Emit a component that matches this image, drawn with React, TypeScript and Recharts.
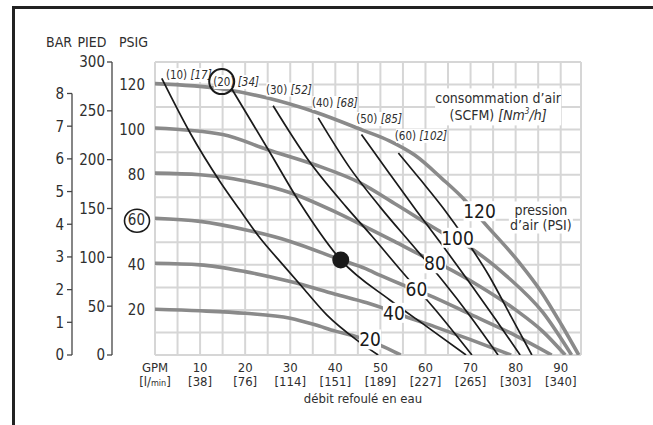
import {
  ComposedChart, Line, XAxis, YAxis, CartesianGrid, ReferenceDot, Label,
} from 'recharts'

const FONT = "'Liberation Sans Narrow', 'Arial Narrow', 'DejaVu Sans Condensed', sans-serif"
const INK = '#1a1a1a'
const TXT = '#2e2e2e'
const CURVE = '#8a8a8a'
const GRID = '#d6d6d6'

const W = 653
const H = 425
const MARGIN = { top: 62, right: 72, bottom: 20, left: 46 }
const X_AXIS_H = 50
const PLOT_H = H - MARGIN.top - MARGIN.bottom - X_AXIS_H

// axis ids sort so that psi sits next to the plot, then feet, then bar
const PSI = 'a-psi'
const PIED = 'b-pied'
const BAR = 'c-bar'

const GPM_MAX = 94.5
const PSI_MAX = 130
const PIED_MAX = 300
const BAR_MAX = PSI_MAX / 14.5038

const GPM_GRID = [0, 5, 10, 15, 20, 25, 30, 35, 40, 45, 50, 55, 60, 65, 70, 75, 80, 85, 90, GPM_MAX]
const GPM_LABELS = [10, 20, 30, 40, 50, 60, 70, 80, 90]
const LPM_LABELS = ['38', '76', '114', '151', '189', '227', '265', '303', '340']
const PSI_GRID = [0, 10, 20, 30, 40, 50, 60, 70, 80, 90, 100, 110, 120, 130]
const PSI_LABELS = [20, 40, 60, 80, 100, 120]
const PIED_TICKS = [0, 50, 100, 150, 200, 250, 300]
const BAR_TICKS = [0, 1, 2, 3, 4, 5, 6, 7, 8]

// water flow vs discharge pressure, one curve per air inlet pressure: [gpm, psig]
const AIR_20 = [[0, 20.3], [10, 19.6], [20, 18.5], [30, 16.3], [35.5, 13.4], [40, 10.6], [44.7, 8.1], [49.9, 4.4], [54.5, 0]]
const AIR_40 = [[0, 40.7], [10, 40], [20, 37], [30, 32.6], [40, 27], [47, 23.2], [50.6, 20.8], [55.4, 17.2], [62, 12.6], [70, 6.8], [79, 0]]
const AIR_60 = [[0, 60.7], [10, 59.3], [20, 55.6], [30, 50.4], [41.2, 42.2], [46.6, 38.4], [50, 35.3], [55.8, 30.4], [60.6, 26.7], [70, 18], [80, 8.6], [88, 0]]
const AIR_80 = [[0, 80.7], [10, 80], [20, 77.2], [30, 72], [40, 63.5], [46.6, 57], [53, 50.5], [60, 43.3], [64.3, 39.2], [72, 30.5], [80, 20], [86, 10.5], [91, 0]]
const AIR_100 = [[0, 100.7], [15, 97.8], [25, 91.1], [35.5, 84.4], [45.6, 76.3], [53.6, 66.7], [63.9, 54.1], [69.5, 48.1], [78, 35], [86, 19], [92.4, 0]]
const AIR_120 = [[0, 120.4], [15, 118], [25, 114], [35.5, 107.8], [46, 99.8], [52, 95], [57.6, 88.7], [63.6, 78.4], [68.7, 68.8], [72.8, 59.2], [80.6, 41.5], [85.7, 28], [90.2, 13.3], [94, 0]]
const AIR_CURVES = [AIR_20, AIR_40, AIR_60, AIR_80, AIR_100, AIR_120]
const AIR_NAMES = ['20', '40', '60', '80', '100', '120']
const AIR_NAME_AT = [[47.7, 6.9], [53, 18.7], [58, 29.2], [62.1, 40.7], [67.1, 52], [72, 63.8]]

// air consumption lines (SCFM): [gpm, psig]
const SCFM_10 = [[1.5, 122.7], [7.8, 98.5], [14.4, 77], [18.8, 64.4], [23.3, 51.9], [28.4, 40], [32.9, 29.6], [38.1, 17.8], [44.7, 6.7], [49.5, 0]]
const SCFM_20 = [[16.6, 119.5], [25.4, 90.2], [32.2, 67.3], [41.2, 42.2], [52.1, 24.4], [60.3, 12.6], [69, 0]]
const SCFM_30 = [[26.2, 110.6], [34, 86.5], [42.5, 65.5], [48, 53], [55, 36.5], [62, 20.5], [70.3, 0]]
const SCFM_40 = [[36.2, 105.2], [43.3, 82.8], [50, 65.5], [57, 49], [64, 32.5], [70, 17], [76.1, 0]]
const SCFM_50 = [[45.8, 97.8], [52, 80.5], [58, 64], [64, 48], [70, 31.5], [75.5, 16], [81, 0]]
const SCFM_60 = [[54, 89.6], [59, 77.5], [64, 65], [69, 51], [74, 35.5], [79, 17], [83.6, 0]]
const SCFM_LINES = [SCFM_10, SCFM_20, SCFM_30, SCFM_40, SCFM_50, SCFM_60]
const SCFM_NAMES = ['10', '20', '30', '40', '50', '60']
const NM3H_NAMES = ['17', '34', '52', '68', '85', '102']
const SCFM_NAME_AT = [[7.5, 124.2], [18, 121.1], [29.7, 117.8], [39.9, 111.8], [49.7, 104.7], [59, 97.2]]
const CIRCLED_SCFM_AT = [14.8, 121.3]

const OPERATING_POINT = [41.2, 42.2]
const CONSUMPTION_NOTE_AT = [76.1, 110.3]
const PRESSURE_NOTE_AT = [85.6, 61]

const toPts = (arr: number[][]) => arr.map(([x, y]) => ({ x, y }))

function GpmTick({ x, y, payload }: any) {
  const v = payload.value
  if (v === 0) {
    return (
      <g fontFamily={FONT} fontSize={13}>
        <text x={x} y={y + 17} textAnchor="middle" fill={TXT}>GPM</text>
        <text x={x} y={y + 31} textAnchor="middle" fill={TXT}>
          [l/<tspan fontSize={9}>min</tspan>]
        </text>
      </g>
    )
  }
  const i = GPM_LABELS.indexOf(v)
  if (i < 0) return <g />
  return (
    <g fontFamily={FONT} fontSize={13}>
      <text x={x} y={y + 17} textAnchor="middle" fill={TXT}>{v}</text>
      <text x={x} y={y + 31} textAnchor="middle" fill={TXT}>[{LPM_LABELS[i]}]</text>
    </g>
  )
}

function PsiTick({ x, y, payload }: any) {
  const v = payload.value
  if (!PSI_LABELS.includes(v)) return <g />
  return (
    <g>
      <text x={x} y={y} dy="0.36em" textAnchor="end" fontFamily={FONT} fontSize={15} fill={TXT}>{v}</text>
      {v === 60 && <ellipse cx={x - 8} cy={y + 1} rx={12.5} ry={11.5} fill="none" stroke={INK} strokeWidth={1.6} />}
    </g>
  )
}

function PlainTick({ x, y, payload }: any) {
  return (
    <text x={x} y={y} dy="0.36em" textAnchor="end" fontFamily={FONT} fontSize={15} fill={TXT}>
      {payload.value}
    </text>
  )
}

// bar axis line only runs from 0 to 8 bar
function BarTick({ x, y, payload }: any) {
  const lineX = x + 8
  return (
    <g>
      <text x={x} y={y} dy="0.36em" textAnchor="end" fontFamily={FONT} fontSize={15} fill={TXT}>
        {payload.value}
      </text>
      {payload.value === 8 && (
        <line x1={lineX} x2={lineX} y1={y} y2={y + (8 * PLOT_H) / BAR_MAX} stroke="#444" strokeWidth={1.3} />
      )}
    </g>
  )
}

const curveTag = (text: string) => ({ cx, cy }: any) => {
  const w = text.length * 10 + 2
  return (
    <g>
      <rect x={cx - w / 2} y={cy - 10} width={w} height={20} fill="#fff" />
      <text x={cx} y={cy} dy="0.36em" textAnchor="middle" fontFamily={FONT} fontSize={19} fill={INK}>{text}</text>
    </g>
  )
}

const scfmTag = (scfm: string, nm3: string) => ({ cx, cy }: any) => {
  const w = (scfm.length + nm3.length + 5) * 5
  return (
    <g>
      <rect x={cx - w / 2} y={cy - 7} width={w} height={14} fill="#fff" />
      <text x={cx} y={cy} dy="0.35em" textAnchor="middle" fontFamily={FONT} fontSize={11.5} fill={TXT}>
        ({scfm}) <tspan fontStyle="italic">[{nm3}]</tspan>
      </text>
    </g>
  )
}

const consumptionNote = ({ cx, cy }: any) => (
  <g fontFamily={FONT} fill={TXT}>
    <rect x={cx - 63} y={cy - 18} width={126} height={37} fill="#fff" />
    <text x={cx} y={cy - 3} textAnchor="middle" fontSize={14} fill={TXT}>consommation d’air</text>
    <text x={cx} y={cy + 14} textAnchor="middle" fontSize={14} fill={TXT}>
      (SCFM) <tspan fontStyle="italic">[Nm<tspan dy={-6} fontSize={8}>3</tspan><tspan dy={6}>/h]</tspan></tspan>
    </text>
  </g>
)

const pressureNote = ({ cx, cy }: any) => (
  <g fontFamily={FONT} fill={TXT}>
    <rect x={cx - 32} y={cy - 16} width={64} height={32} fill="#fff" />
    <text x={cx} y={cy - 3} textAnchor="middle" fontSize={14} fill={TXT}>pression</text>
    <text x={cx} y={cy + 12} textAnchor="middle" fontSize={14} fill={TXT}>d’air (PSI)</text>
  </g>
)

export default function App() {
  return (
    <div style={{ position: 'fixed', left: 0, top: 0, width: W, height: H, background: '#fff' }}>
      <div
        style={{
          position: 'absolute', left: 12, top: 6, width: W - 12, height: H - 6,
          borderTop: '3px solid #222', borderLeft: '3px solid #222', boxSizing: 'border-box',
        }}
      />
      <div style={{ position: 'absolute', left: 0, top: 0 }}>
        <ComposedChart width={W} height={H} margin={MARGIN}>
          <CartesianGrid yAxisId={PSI} stroke={GRID} strokeWidth={2} />
          <XAxis
            dataKey="x" type="number" domain={[0, GPM_MAX]} ticks={GPM_GRID} allowDataOverflow
            height={X_AXIS_H} axisLine={false} tickLine={false} tickSize={0} tickMargin={0}
            tick={<GpmTick />} interval={0}
          >
            <Label value="débit refoulé en eau" position="insideBottom" offset={2} dx={-5}
              fontFamily={FONT} fontSize={13} fill={TXT} />
          </XAxis>
          <YAxis
            yAxisId={PSI} type="number" domain={[0, PSI_MAX]} ticks={PSI_GRID} allowDataOverflow
            width={43} axisLine={false} tickLine={false} tickSize={0} tickMargin={10}
            tick={<PsiTick />} interval={0}
          >
            <Label value="PSIG" position="top" offset={15} fontFamily={FONT} fontSize={14} fill={TXT} />
          </YAxis>
          <YAxis
            yAxisId={PIED} type="number" domain={[0, PIED_MAX]} ticks={PIED_TICKS} allowDataOverflow
            width={40} axisLine={{ stroke: '#444', strokeWidth: 1.3 }} tickLine={{ stroke: '#444', strokeWidth: 1.3 }}
            tickSize={5} tickMargin={2} tick={<PlainTick />} interval={0}
          >
            <Label value="PIED" position="top" offset={15} fontFamily={FONT} fontSize={14} fill={TXT} />
          </YAxis>
          <YAxis
            yAxisId={BAR} type="number" domain={[0, BAR_MAX]} ticks={BAR_TICKS} allowDataOverflow
            width={26} axisLine={false} tickLine={{ stroke: '#444', strokeWidth: 1.3 }}
            tickSize={5} tickMargin={3} tick={<BarTick />} interval={0}
          >
            <Label value="BAR" position="top" offset={15} fontFamily={FONT} fontSize={14} fill={TXT} />
          </YAxis>

          {AIR_CURVES.map((c, i) => (
            <Line
              key={`air-${AIR_NAMES[i]}`} yAxisId={PSI} data={toPts(c)} dataKey="y" type="monotone"
              stroke={CURVE} strokeWidth={3.6} dot={false} activeDot={false} isAnimationActive={false}
            />
          ))}
          {SCFM_LINES.map((c, i) => (
            <Line
              key={`scfm-${SCFM_NAMES[i]}`} yAxisId={PSI} data={toPts(c)} dataKey="y" type="monotone"
              stroke={INK} strokeWidth={1.7} dot={false} activeDot={false} isAnimationActive={false}
            />
          ))}

          <ReferenceDot
            yAxisId={PSI} x={CONSUMPTION_NOTE_AT[0]} y={CONSUMPTION_NOTE_AT[1]} r={0}
            shape={consumptionNote} ifOverflow="visible"
          />
          <ReferenceDot
            yAxisId={PSI} x={PRESSURE_NOTE_AT[0]} y={PRESSURE_NOTE_AT[1]} r={0}
            shape={pressureNote} ifOverflow="visible"
          />
          {AIR_NAME_AT.map(([x, y], i) => (
            <ReferenceDot
              key={`air-tag-${i}`} yAxisId={PSI} x={x} y={y} r={0}
              shape={curveTag(AIR_NAMES[i])} ifOverflow="visible"
            />
          ))}
          {SCFM_NAME_AT.map(([x, y], i) => (
            <ReferenceDot
              key={`scfm-tag-${i}`} yAxisId={PSI} x={x} y={y} r={0}
              shape={scfmTag(SCFM_NAMES[i], NM3H_NAMES[i])} ifOverflow="visible"
            />
          ))}
          <ReferenceDot
            yAxisId={PSI} x={CIRCLED_SCFM_AT[0]} y={CIRCLED_SCFM_AT[1]} r={12.5}
            fill="none" stroke={INK} strokeWidth={2} ifOverflow="visible"
          />
          <ReferenceDot
            yAxisId={PSI} x={OPERATING_POINT[0]} y={OPERATING_POINT[1]} r={8.5}
            fill={INK} stroke="none" ifOverflow="visible"
          />
        </ComposedChart>
      </div>
    </div>
  )
}
